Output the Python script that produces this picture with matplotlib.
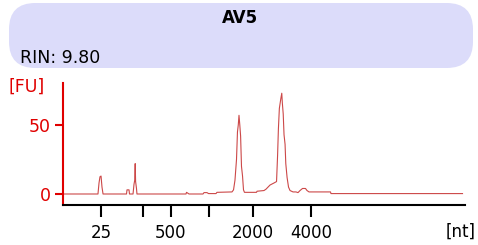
import matplotlib.pyplot as plt
from matplotlib.patches import FancyBboxPatch

# --- Datos del electroferograma (tiempo [s] vs fluorescencia [FU]) ---
sample = "AV5"
rin = 9.80

tiempo = [19.00, 23.35, 23.48, 23.60, 23.73, 23.85, 23.98, 26.90, 26.96, 27.21,
          27.27, 27.71, 27.83, 27.92, 27.98, 28.03, 28.14, 28.20, 34.30, 34.36,
          34.55, 34.67, 36.41, 36.54, 36.91, 37.10, 38.03, 38.15, 40.02, 40.21,
          40.39, 40.58, 40.70, 40.80, 40.89, 40.99, 41.09, 41.20, 41.33, 41.45,
          41.57, 43.07, 43.13, 44.00, 44.25, 44.75, 45.25, 45.56, 45.69, 45.79,
          45.91, 46.09, 46.21, 46.28, 46.39, 46.49, 46.62, 46.71, 46.87, 47.05,
          47.24, 47.61, 47.98, 48.23, 48.48, 48.79, 49.16, 49.35, 49.60, 52.27,
          52.33, 68.69]
fu = [0, 0, 8, 12.5, 13, 5, 0, 0, 3, 3,
      0, 0, 7, 10, 22, 9, 4, 0, 0, 1.2,
      0.5, 0, 0, 1, 1, 0.3, 0.3, 1.2, 1.5, 3,
      10, 25, 45, 50, 57, 50, 42, 20, 13, 3,
      1.2, 1.2, 2, 2.5, 3.5, 6.5, 8, 9, 28, 47,
      62, 69, 73, 66, 58, 43, 36, 22, 12, 5,
      2.5, 1.5, 1.5, 1, 2.5, 4, 4, 2.5, 1.5, 1.5,
      0.3, 0.3]

# Escalera de tamaños (nt) y su tiempo de migración
ladder_t = [23.73, 28.95, 32.43, 37.16, 42.63, 49.85]
ladder_lbl = ["25", "", "500", "", "2000", "4000"]

fig = plt.figure(figsize=(4.78, 2.45), dpi=100)

# --- Caja del título ---
caja = FancyBboxPatch((9 / 478, 1 - 68 / 245), 464 / 478, 65 / 245,
                      boxstyle="round,pad=0,rounding_size=0.055",
                      transform=fig.transFigure, facecolor="#dcdcfa",
                      edgecolor="none", mutation_aspect=478 / 245)
fig.patches.append(caja)
fig.text(240 / 478, 1 - 18 / 245, sample, ha="center", va="center",
         fontsize=12, fontweight="bold")
fig.text(20 / 478, 1 - 58 / 245, f"RIN: {rin:.2f}", ha="left", va="center",
         fontsize=12.5)

# --- Gráfico ---
ax = fig.add_axes([63 / 478, 1 - 205 / 245, 402 / 478, 122 / 245])
ax.plot(tiempo, fu, color="#cc4848", lw=0.8)
ax.set_xlim(19, 69)
ax.set_ylim(-7.97, 80.4)

for s in ["top", "right"]:
    ax.spines[s].set_visible(False)
ax.spines["left"].set_color("#e00000")
ax.spines["left"].set_linewidth(1.5)
ax.spines["bottom"].set_color("black")
ax.spines["bottom"].set_linewidth(1.5)

ax.set_yticks([0, 50])
ax.tick_params(axis="y", colors="#e00000", length=6, width=1.5,
               labelsize=12.5, pad=3)
ax.set_xticks(ladder_t)
ax.set_xticklabels(ladder_lbl)
ax.tick_params(axis="x", colors="black", length=8.5, width=1.5,
               labelsize=12, pad=5)

fig.text(27 / 478, 1 - 87 / 245, "[FU]", color="#e00000", ha="center",
         va="center", fontsize=12.5)
fig.text(476 / 478, 1 - 232 / 245, "[nt]", color="black", ha="right",
         va="center", fontsize=12)

fig.savefig("out.png", dpi=100)
